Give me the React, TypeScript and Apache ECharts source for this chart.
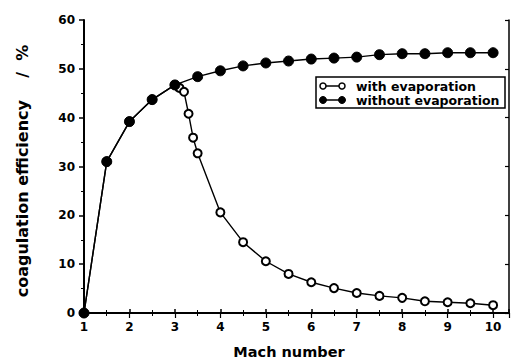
import React, { useEffect, useRef } from "react";
import * as echarts from "echarts";

const machWithout = [1, 1.5, 2, 2.5, 3, 3.5, 4, 4.5, 5, 5.5, 6, 6.5, 7, 7.5, 8, 8.5, 9, 9.5, 10];
const effWithout = [0, 31.0, 39.2, 43.7, 46.7, 48.4, 49.6, 50.6, 51.2, 51.6, 52.0, 52.2, 52.4, 52.9, 53.1, 53.1, 53.3, 53.3, 53.3];

const machWith = [1, 1.5, 2, 2.5, 3, 3.1, 3.2, 3.3, 3.4, 3.5, 4, 4.5, 5, 5.5, 6, 6.5, 7, 7.5, 8, 8.5, 9, 9.5, 10];
const effWith = [0, 31.0, 39.2, 43.7, 46.7, 46.1, 45.3, 40.8, 35.9, 32.7, 20.6, 14.5, 10.6, 8.0, 6.3, 5.1, 4.1, 3.5, 3.1, 2.4, 2.2, 2.0, 1.6];

const legendLabels = ["with evaporation", "without evaporation"];
const xTitle = "Mach number";
const yTitle = "coagulation efficiency    /  %";

const FONT = "DejaVu Sans";

export default function App() {
  const ref = useRef<HTMLDivElement>(null);
  useEffect(() => {
    if (!ref.current) return;
    const chart = echarts.init(ref.current, null, { renderer: "svg" });
    const xMin = 1, xMax = 10.35;
    const intLabel = (v: number) => (Math.abs(v - Math.round(v)) < 1e-6 ? String(Math.round(v)) : "");
    const labelStyle = { color: "#000", fontFamily: FONT, fontWeight: "bold" as const, fontSize: 12 };
    const legendFont = `bold 12.5px "${FONT}"`;
    chart.setOption({
      animation: false,
      backgroundColor: "#fff",
      grid: { left: 84, top: 20, right: 1, bottom: 48, containLabel: false },
      xAxis: [
        {
          type: "value", min: xMin, max: xMax, interval: 1,
          axisLine: { show: true, lineStyle: { color: "#000", width: 2 } },
          axisTick: { show: true, inside: true, length: 4, lineStyle: { color: "#000", width: 1.5 } },
          minorTick: { show: true, splitNumber: 2, length: 3, lineStyle: { color: "#000", width: 1 } },
          splitLine: { show: false },
          axisLabel: { ...labelStyle, margin: 8, formatter: intLabel },
        },
        {
          type: "value", min: xMin, max: xMax, interval: 1, position: "top",
          axisLine: { show: true, lineStyle: { color: "#000", width: 1.5 } },
          axisTick: { show: true, inside: true, length: 5, lineStyle: { color: "#000", width: 1.2 } },
          minorTick: { show: true, splitNumber: 2, length: 3, lineStyle: { color: "#000", width: 1 } },
          splitLine: { show: false },
          axisLabel: { show: false },
        },
      ],
      yAxis: [
        {
          type: "value", min: 0, max: 60, interval: 10,
          axisLine: { show: true, lineStyle: { color: "#000", width: 2 } },
          axisTick: { show: true, inside: false, length: 5, lineStyle: { color: "#000", width: 1.5 } },
          minorTick: { show: true, splitNumber: 2, length: 3, lineStyle: { color: "#000", width: 1 } },
          splitLine: { show: false },
          axisLabel: { ...labelStyle, margin: 9 },
        },
        {
          type: "value", min: 0, max: 60, interval: 10, position: "right",
          axisLine: { show: true, lineStyle: { color: "#000", width: 1.5 } },
          axisTick: { show: true, inside: true, length: 4, lineStyle: { color: "#000", width: 1.2 } },
          splitLine: { show: false },
          axisLabel: { show: false },
        },
      ],
      series: [
        {
          name: legendLabels[0], type: "line", xAxisIndex: 0, yAxisIndex: 0, z: 2,
          data: machWith.map((m, i) => [m, effWith[i]]),
          symbol: "circle", symbolSize: 8,
          lineStyle: { color: "#000", width: 1.4 },
          itemStyle: { color: "#fff", borderColor: "#000", borderWidth: 2 },
        },
        {
          name: legendLabels[1], type: "line", xAxisIndex: 0, yAxisIndex: 0, z: 3,
          data: machWithout.map((m, i) => [m, effWithout[i]]),
          symbol: "circle", symbolSize: 10,
          lineStyle: { color: "#000", width: 1.4 },
          itemStyle: { color: "#000", borderColor: "#000", borderWidth: 1 },
        },
      ],
      graphic: [
        {
          type: "text", z: 10, x: 289, y: 352,
          style: { text: xTitle, fill: "#000", font: `bold 14.5px "${FONT}"`, align: "center", verticalAlign: "middle" },
        },
        {
          type: "text", z: 10, x: 22, y: 171, rotation: Math.PI / 2,
          style: { text: yTitle, fill: "#000", font: `bold 16px "${FONT}"`, align: "center", verticalAlign: "middle" },
        },
        {
          type: "rect", z: 10,
          shape: { x: 316, y: 77, width: 189, height: 31 },
          style: { fill: "#fff", stroke: "#000", lineWidth: 1.5 },
        },
        { type: "line", z: 11, shape: { x1: 323, y1: 86, x2: 342, y2: 86 }, style: { stroke: "#000", lineWidth: 1.5 } },
        { type: "circle", z: 12, shape: { cx: 323, cy: 86, r: 3 }, style: { fill: "#fff", stroke: "#000", lineWidth: 1.5 } },
        { type: "circle", z: 12, shape: { cx: 342, cy: 86, r: 3 }, style: { fill: "#fff", stroke: "#000", lineWidth: 1.5 } },
        { type: "line", z: 11, shape: { x1: 323, y1: 100, x2: 342, y2: 100 }, style: { stroke: "#000", lineWidth: 1.5 } },
        { type: "circle", z: 12, shape: { cx: 323, cy: 100, r: 3.5 }, style: { fill: "#000", stroke: "#000", lineWidth: 1 } },
        { type: "circle", z: 12, shape: { cx: 342, cy: 100, r: 3.5 }, style: { fill: "#000", stroke: "#000", lineWidth: 1 } },
        {
          type: "text", z: 12, x: 356, y: 86,
          style: { text: legendLabels[0], fill: "#000", font: legendFont, verticalAlign: "middle" },
        },
        {
          type: "text", z: 12, x: 356, y: 100,
          style: { text: legendLabels[1], fill: "#000", font: legendFont, verticalAlign: "middle" },
        },
      ],
    });
    return () => chart.dispose();
  }, []);
  return (
    <div
      ref={ref}
      style={{ position: "fixed", left: 0, top: 0, width: 512, height: 361, background: "#fff" }}
    />
  );
}
